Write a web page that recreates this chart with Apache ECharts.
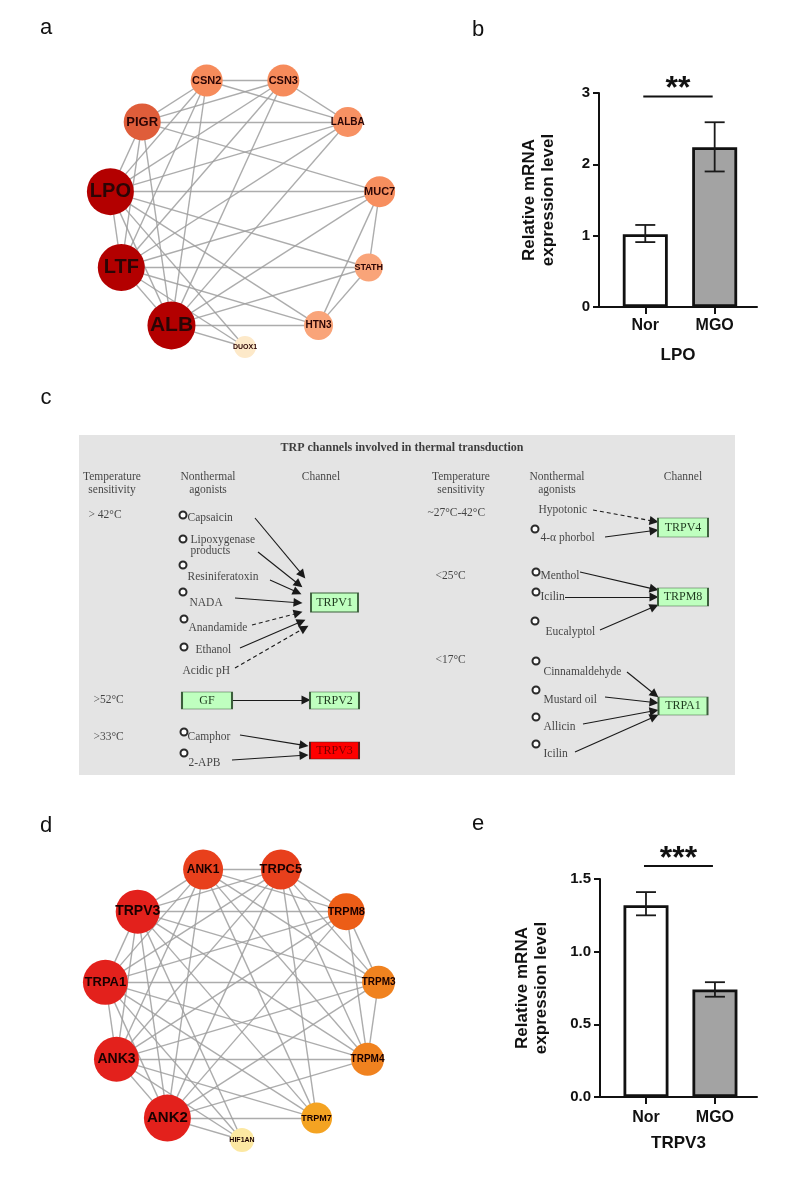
<!DOCTYPE html>
<html><head><meta charset="utf-8">
<script src="https://cdn.jsdelivr.net/npm/echarts@6.0.0/dist/echarts.min.js"></script>
<style>html,body{margin:0;padding:0;background:#fff}#c{width:787px;height:1181px}</style>
</head><body><div id="c"></div>
<script>
// ---------------- DATA ----------------
// Panel a: PPI network (order = clockwise from bottom)
const netANodes = ['DUOX1','ALB','LTF','LPO','PIGR','CSN2','CSN3','LALBA','MUC7','STATH','HTN3'];
const netAEdges = [
  ['CSN2','CSN3'],['CSN2','LALBA'],['CSN3','LALBA'],['PIGR','LALBA'],['PIGR','CSN2'],['PIGR','CSN3'],['PIGR','MUC7'],
  ['LPO','MUC7'],['LPO','PIGR'],['LPO','CSN2'],['LPO','CSN3'],['LPO','LALBA'],['LPO','LTF'],['LPO','ALB'],['LPO','STATH'],['LPO','HTN3'],['LPO','DUOX1'],
  ['LTF','STATH'],['LTF','MUC7'],['LTF','LALBA'],['LTF','CSN3'],['LTF','CSN2'],['LTF','PIGR'],['LTF','ALB'],['LTF','HTN3'],['LTF','DUOX1'],
  ['ALB','HTN3'],['ALB','STATH'],['ALB','MUC7'],['ALB','LALBA'],['ALB','CSN3'],['ALB','CSN2'],['ALB','PIGR'],['ALB','DUOX1'],
  ['MUC7','STATH'],['MUC7','HTN3'],['STATH','HTN3']
];
// Panel d: network
const netDNodes = ['HIF1AN','ANK2','ANK3','TRPA1','TRPV3','ANK1','TRPC5','TRPM8','TRPM3','TRPM4','TRPM7'];
const netDEdges = [
  ['TRPV3','TRPA1'],['TRPV3','ANK3'],['TRPV3','ANK2'],['TRPV3','ANK1'],['TRPV3','TRPC5'],
  ['TRPA1','ANK3'],['TRPA1','ANK2'],['TRPA1','ANK1'],['TRPA1','TRPC5'],
  ['ANK3','ANK2'],['ANK3','ANK1'],['ANK3','TRPC5'],['ANK2','ANK1'],['ANK2','TRPC5'],['ANK1','TRPC5'],
  ['TRPM8','TRPV3'],['TRPM8','TRPA1'],['TRPM8','ANK3'],['TRPM8','ANK2'],['TRPM8','ANK1'],['TRPM8','TRPC5'],['TRPM8','TRPM3'],['TRPM8','TRPM4'],
  ['TRPM3','TRPA1'],['TRPM3','TRPV3'],['TRPM3','ANK3'],['TRPM3','ANK2'],['TRPM3','ANK1'],['TRPM3','TRPC5'],['TRPM3','TRPM4'],
  ['TRPM4','ANK3'],['TRPM4','TRPA1'],['TRPM4','TRPV3'],['TRPM4','ANK2'],['TRPM4','ANK1'],['TRPM4','TRPC5'],
  ['TRPM7','ANK2'],['TRPM7','ANK3'],['TRPM7','TRPA1'],['TRPM7','TRPV3'],['TRPM7','ANK1'],['TRPM7','TRPC5'],
  ['HIF1AN','ANK2'],['HIF1AN','ANK3'],['HIF1AN','TRPA1'],['HIF1AN','TRPV3']
];
// Panels b / e: qPCR bars
const groups = ['Nor','MGO'];
const lpoMean = [1.02, 2.24];
const lpoLow  = [0.91, 1.90];
const lpoHigh = [1.15, 2.59];
const trpv3Mean = [1.32, 0.74];
const trpv3Low  = [1.25, 0.69];
const trpv3High = [1.41, 0.79];
const lpoSig = '**';
const trpv3Sig = '***';
// Panel c: KEGG diagram
const cTitle = 'TRP channels involved in thermal transduction';
const cHeaders = ['Temperature\nsensitivity','Nonthermal\nagonists','Channel','Temperature\nsensitivity','Nonthermal\nagonists','Channel'];
const cTemps = ['> 42°C','>52°C','>33°C','~27°C-42°C','<25°C','<17°C'];
const cAgonists = ['Capsaicin','Lipoxygenase\nproducts','Resiniferatoxin','NADA','Anandamide','Ethanol','Acidic pH','Camphor','2-APB',
  'Hypotonic','4-α phorbol','Menthol','Icilin','Eucalyptol','Cinnamaldehyde','Mustard oil','Allicin','Icilin'];
const cCompound = [true,true,true,true,true,true,false,true,true,false,true,true,true,true,true,true,true,true];
const cTargets = ['TRPV1','TRPV1','TRPV1','TRPV1','TRPV1','TRPV1','TRPV1','TRPV3','TRPV3',
  'TRPV4','TRPV4','TRPM8','TRPM8','TRPM8','TRPA1','TRPA1','TRPA1','TRPA1'];
const cIndirect = ['Anandamide','Acidic pH','Hypotonic'];
const cBoxes = ['TRPV1','GF','TRPV2','TRPV3','TRPV4','TRPM8','TRPA1'];
const cBoxLinks = [['GF','TRPV2']];
const cHighlighted = ['TRPV3'];

// ---------------- STYLE / LAYOUT ----------------
const SANS = 'Liberation Sans';
const SERIF = 'Liberation Serif';
const netAStyle = {
  DUOX1:{s:22,c:'#fde9c9',f:7}, ALB:{s:48,c:'#b30000',f:21}, LTF:{s:47,c:'#b30000',f:20}, LPO:{s:47,c:'#b30000',f:20},
  PIGR:{s:37,c:'#df5d3a',f:13}, CSN2:{s:32,c:'#f68b5b',f:11}, CSN3:{s:32,c:'#f68b5b',f:11}, LALBA:{s:30,c:'#f79163',f:10},
  MUC7:{s:31,c:'#f78e5e',f:11}, STATH:{s:28,c:'#f9a479',f:9}, HTN3:{s:29,c:'#f9a479',f:10}
};
const netDStyle = {
  HIF1AN:{s:24,c:'#fce8a2',f:7}, ANK2:{s:47,c:'#e3211c',f:15}, ANK3:{s:45,c:'#e3211c',f:14}, TRPA1:{s:45,c:'#e3211c',f:13},
  TRPV3:{s:44,c:'#e3211c',f:14}, ANK1:{s:40,c:'#e8401c',f:12}, TRPC5:{s:40,c:'#e8401c',f:13}, TRPM8:{s:37,c:'#ec5d17',f:11},
  TRPM3:{s:33,c:'#f0821f',f:10}, TRPM4:{s:33,c:'#f0821f',f:10}, TRPM7:{s:31,c:'#f4a322',f:9}
};
// diagram layout (units inside grey box)
const cHeaderPos = [[33,48],[129,48],[242,42],[382,48],[478,48],[604,42]];
const cTempPos = [[9,80],[14,265],[14,302],[348,78],[356,141],[356,225]];
const cAgoTextPos = [[108,83],[111,110.5],[108,142],[110,168],[109,193],[116,215],[103,236],[108,302],[109,328],
  [459,75],[461,103],[461,141],[461,162],[466,197],[464,237],[464,265],[464,292],[464,319]];
const cAgoCirclePos = [[104,80],[104,104],[104,130],[104,157],[105,184],[105,212],null,[105,297],[105,318],
  null,[456,94],[457,137],[457,157],[456,186],[457,226],[457,255],[457,282],[457,309]];
const cArrowPos = [
  [[176,83],[226,143]],[[179,117],[223,152]],[[191,145],[222,159]],[[156,163],[223,168]],[[173,190],[223,177]],
  [[161,213],[226,185]],[[156,233],[229,191]],[[161,300],[229,311]],[[153,325],[229,320]],
  [[514,75],[579,87]],[[526,102],[579,95]],[[501,137],[579,155]],[[486,162],[579,162]],[[521,195],[579,170]],
  [[548,237],[579,262]],[[526,262],[579,268]],[[504,289],[579,275]],[[496,317],[579,280]]
];
const cBoxLinkPos = [[[153,265],[231,265]]];
const cBoxPos = [[255.5,167.5],[128,265.5],[255.5,265.5],[255.5,315.5],[604,92.5],[604,162],[604,271]];
const cBoxSize = [[47,19],[50,17],[49,17],[49,17],[50,19],[50,18],[49,18]];

// ---------------- BUILD ----------------
function netSeries(nodes, edges, style, polarIndex, labelColor) {
  return {
    type:'graph', coordinateSystem:'polar', polarIndex: polarIndex, layout:'none', z:3,
    data: nodes.map((n,i)=>({name:n, value:[1,i], symbolSize:style[n].s,
      itemStyle:{color:style[n].c}, label:{fontSize:style[n].f}})),
    links: edges.map(e=>({source:e[0], target:e[1]})),
    lineStyle:{color:'#9e9e9e', width:1.4, opacity:0.85, curveness:0},
    label:{show:true, position:'inside', fontWeight:'bold', fontFamily:SANS, color:labelColor},
    emphasis:{disabled:true}
  };
}
function errRender(params, api) {
  const x = api.value(0);
  const lo = api.coord([x, api.value(1)]);
  const hi = api.coord([x, api.value(2)]);
  const cap = 10, st = {stroke:'#1a1a1a', lineWidth:1.8};
  return {type:'group', children:[
    {type:'line', shape:{x1:lo[0],y1:lo[1],x2:hi[0],y2:hi[1]}, style:st},
    {type:'line', shape:{x1:hi[0]-cap,y1:hi[1],x2:hi[0]+cap,y2:hi[1]}, style:st},
    {type:'line', shape:{x1:lo[0]-cap,y1:lo[1],x2:lo[0]+cap,y2:lo[1]}, style:st}
  ]};
}
function sigRender(label) {
  return function(params, api) {
    const a = api.coord([api.value(0), api.value(2)]);
    const b = api.coord([api.value(1), api.value(2)]);
    return {type:'group', children:[
      {type:'line', shape:{x1:a[0]-2,y1:a[1],x2:b[0]-2,y2:b[1]}, style:{stroke:'#111', lineWidth:2}},
      {type:'text', x:(a[0]+b[0])/2-2, y:a[1]-7, style:{text:label, font:'bold 32px '+SANS, fill:'#111', align:'center', verticalAlign:'middle'}}
    ]};
  };
}
function barAxes(gi, yMax, yInt, fmt, xName, xNameGap, yNameGap, labelMargin) {
  const x = {gridIndex:gi, type:'value', min:0.333, max:2.61,
    axisLine:{show:true, onZero:false, lineStyle:{color:'#111', width:2}},
    axisTick:{show:true, customValues:[1,2], length:7, lineStyle:{color:'#111', width:2}},
    axisLabel:{show:true, customValues:[1,2], formatter:v=>groups[Math.round(v)-1] || '', color:'#111', fontWeight:'bold', fontSize:16, fontFamily:SANS, margin:labelMargin},
    splitLine:{show:false},
    name:xName, nameLocation:'middle', nameGap:xNameGap, nameTextStyle:{color:'#111', fontWeight:'bold', fontSize:17, fontFamily:SANS}
  };
  const y = {gridIndex:gi, type:'value', min:0, max:yMax, interval:yInt,
    axisLine:{show:true, lineStyle:{color:'#111', width:2}},
    axisTick:{show:true, length:6, lineStyle:{color:'#111', width:2}},
    axisLabel:{color:'#111', fontWeight:'bold', fontSize:15, fontFamily:SANS, margin:9, formatter:fmt},
    splitLine:{show:false},
    name:'Relative mRNA\nexpression level', nameLocation:'middle', nameGap:yNameGap, nameRotate:90,
    nameTextStyle:{color:'#111', fontWeight:'bold', fontSize:17, lineHeight:19, fontFamily:SANS}
  };
  return [x,y];
}
function barSeries(gi, mean, low, high, sigLabel, sigY) {
  return [
    {type:'bar', xAxisIndex:gi, yAxisIndex:gi, barWidth:45, z:2,
      data: mean.map((v,i)=>({value:[i+1, v], itemStyle:{color: i===0 ? '#ffffff' : '#a3a3a3'}})),
      itemStyle:{borderColor:'#111', borderWidth:2.8, opacity:1}},
    {type:'custom', xAxisIndex:gi, yAxisIndex:gi, z:4, clip:false, renderItem:errRender,
      encode:{x:0, y:[1,2]}, data: mean.map((v,i)=>[i+1, low[i], high[i]])},
    {type:'custom', xAxisIndex:gi, yAxisIndex:gi, z:4, clip:false, renderItem:sigRender(sigLabel),
      encode:{x:[0,1], y:2}, data:[[1, 2, sigY]]}
  ];
}
function shorten(seg, d) {
  const [a,b] = seg; const dx=b[0]-a[0], dy=b[1]-a[1]; const L=Math.hypot(dx,dy);
  return [a, [b[0]-dx/L*d, b[1]-dy/L*d]];
}

const bAx = barAxes(0, 3, 1, v=>String(v), 'LPO', 40, 41, 11);
const eAx = barAxes(1, 1.5, 0.5, v=>v.toFixed(1), 'TRPV3', 38, 49, 13);

const cText = {fontFamily:SERIF, fontSize:11.5, color:'#1a1a1a'};
const option = {
  animation:false,
  backgroundColor:'#ffffff',
  textStyle:{fontFamily:SANS},
  polar:[{center:[245,211], radius:136}, {center:[242,1002], radius:138}],
  angleAxis:[0,1].map(pi=>{
    const nodes = pi===0 ? netANodes : netDNodes;
    return {polarIndex:pi, type:'category', data:nodes, boundaryGap:true, clockwise:true,
      startAngle: 270 + 180/nodes.length,
      axisLine:{show:false}, axisTick:{show:false}, axisLabel:{show:false}, splitLine:{show:false}, splitArea:{show:false}};
  }),
  radiusAxis:[0,1].map(pi=>({polarIndex:pi, type:'value', min:0, max:1,
      axisLine:{show:false}, axisTick:{show:false}, axisLabel:{show:false}, splitLine:{show:false}, splitArea:{show:false}})),
  grid:[
    {left:599, top:93, width:158, height:214, outerBoundsMode:'none', containLabel:false},
    {left:600, top:879, width:157, height:218, outerBoundsMode:'none', containLabel:false},
    {left:79, top:435, width:656, height:340, show:true, backgroundColor:'#e4e4e4', borderWidth:0, outerBoundsMode:'none', containLabel:false}
  ],
  xAxis:[bAx[0], eAx[0], {gridIndex:2, type:'value', min:0, max:656, show:false}],
  yAxis:[bAx[1], eAx[1], {gridIndex:2, type:'value', min:0, max:340, inverse:true, show:false}],
  graphic:[
    ['a',46,28],['b',478,30],['c',46,398],['d',46,826],['e',478,824]
  ].map(([t,x,y])=>({type:'text', x:x, y:y, z:10, style:{text:t, font:'22px '+SANS, fill:'#111', align:'center', verticalAlign:'middle'}})),
  series:[
    netSeries(netANodes, netAEdges, netAStyle, 0, '#2b0505'),
    netSeries(netDNodes, netDEdges, netDStyle, 1, '#1a0000'),
    ...barSeries(0, lpoMean, lpoLow, lpoHigh, lpoSig, 2.95),
    ...barSeries(1, trpv3Mean, trpv3Low, trpv3High, trpv3Sig, 1.59),
    // panel c: arrows
    {type:'lines', coordinateSystem:'cartesian2d', xAxisIndex:2, yAxisIndex:2, z:3,
      symbol:['none','triangle'], symbolSize:9,
      lineStyle:{color:'#1a1a1a', width:1.1, opacity:1, curveness:0},
      data: cAgonists.map((n,i)=>({coords:shorten(cArrowPos[i],4),
          lineStyle: cIndirect.indexOf(n)>=0 ? {type:[4,3]} : {type:'solid'}}))
        .concat(cBoxLinks.map((l,i)=>({coords:shorten(cBoxLinkPos[i],4)})))},
    // compound circles
    {type:'scatter', xAxisIndex:2, yAxisIndex:2, z:4, symbol:'emptyCircle', symbolSize:7,
      itemStyle:{color:'#2a2a2a', borderWidth:1.2, opacity:1},
      data: cAgonists.map((n,i)=>cCompound[i] ? cAgoCirclePos[i] : null).filter(p=>p)},
    // agonist + temperature texts (left aligned)
    {type:'scatter', xAxisIndex:2, yAxisIndex:2, z:4, symbolSize:1, itemStyle:{color:'rgba(0,0,0,0)'},
      label:Object.assign({show:true, position:'right', distance:0, formatter:'{b}', lineHeight:11}, cText),
      data: cAgonists.map((n,i)=>({name:n, value:cAgoTextPos[i]}))
        .concat(cTemps.map((t,i)=>({name:t, value:cTempPos[i]})))},
    // headers (centered)
    {type:'scatter', xAxisIndex:2, yAxisIndex:2, z:4, symbolSize:1, itemStyle:{color:'rgba(0,0,0,0)'},
      label:Object.assign({show:true, position:'inside', formatter:'{b}', lineHeight:13}, cText),
      data: cHeaders.map((h,i)=>({name:h, value:cHeaderPos[i]}))
        .concat([{name:cTitle, value:[323,13], label:{fontWeight:'bold', fontSize:12, color:'#111'}}])},
    // gene boxes
    {type:'scatter', xAxisIndex:2, yAxisIndex:2, z:4, symbol:'rect',
      data: cBoxes.map((b,i)=>{
        const hl = cHighlighted.indexOf(b)>=0;
        return {name:b, value:cBoxPos[i], symbolSize:cBoxSize[i],
          itemStyle:{color: hl ? '#ff0000' : '#bfffbf', borderColor: hl ? '#5a1a1a' : '#3b5e3b', borderWidth:1.2, opacity:1},
          label:{color: hl ? '#7a0000' : '#1e3a1e'}};
      }),
      label:{show:true, position:'inside', formatter:'{b}', fontFamily:SERIF, fontSize:12}}
  ]
};
const chart = echarts.init(document.getElementById('c'), null, {renderer:'canvas'});
chart.setOption(option);
</script></body></html>
